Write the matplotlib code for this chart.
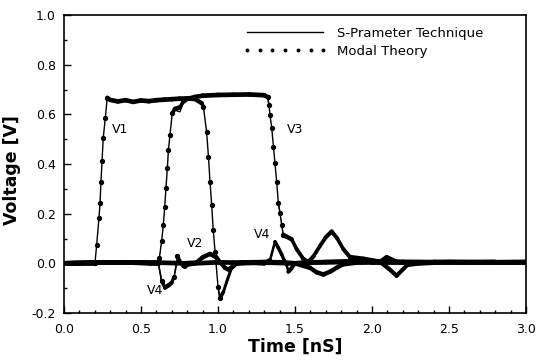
import numpy as np
import matplotlib
matplotlib.use("Agg")
import matplotlib.pyplot as plt
from matplotlib.collections import LineCollection
from matplotlib.lines import Line2D


# Values (time in ns, voltage in V)
t1 = [0.0, 0.1, 0.201, 0.212, 0.227, 0.234, 0.240, 0.247, 0.255, 0.268, 0.281,
      0.30, 0.35, 0.40, 0.45, 0.50, 0.55, 0.60, 0.65, 0.70, 0.75, 0.80, 0.85,
      0.894, 0.905, 0.926, 0.938, 0.948, 0.959, 0.969, 0.981, 1.0, 1.013,
      1.035, 1.056, 1.088, 1.12, 1.2, 1.3, 1.4, 1.5, 1.597, 1.64, 1.684,
      1.73, 1.77, 1.81, 1.9, 2.0, 2.2, 2.4, 2.6, 2.8, 3.0]
v1_sp = [0.0, 0.0, 0.0, 0.074, 0.181, 0.242, 0.329, 0.412, 0.506, 0.584, 0.667,
         0.655, 0.650, 0.655, 0.648, 0.655, 0.652, 0.656, 0.658, 0.660, 0.662, 0.665, 0.662,
         0.645, 0.631, 0.530, 0.429, 0.329, 0.235, 0.134, 0.047, -0.094, -0.148,
         -0.120, -0.080, -0.020, 0.0, 0.005, 0.005, 0.003, 0.0, -0.020, -0.038, -0.047,
         -0.035, -0.020, -0.005, 0.003, 0.005, 0.005, 0.006, 0.004, 0.005, 0.005]
v1_mt = [0.0, 0.0, 0.0, 0.074, 0.181, 0.242, 0.329, 0.412, 0.506, 0.584, 0.667,
         0.658, 0.652, 0.657, 0.650, 0.656, 0.653, 0.657, 0.659, 0.661, 0.663, 0.664, 0.662,
         0.645, 0.631, 0.530, 0.429, 0.329, 0.235, 0.134, 0.047, -0.094, -0.140,
         -0.115, -0.075, -0.018, 0.0, 0.004, 0.005, 0.004, 0.0, -0.018, -0.036, -0.045,
         -0.033, -0.018, -0.004, 0.003, 0.005, 0.005, 0.005, 0.004, 0.005, 0.005]

t2 = [0.0, 0.2, 0.4, 0.6, 0.78, 0.86, 0.90, 0.948, 0.99, 1.02, 1.045, 1.067,
      1.09, 1.12, 1.3, 1.5, 1.7, 1.9, 2.052, 2.095, 2.16, 2.25, 2.4, 2.6, 2.8, 3.0]
v2_sp = [0.0, 0.003, 0.005, 0.003, 0.0, 0.003, 0.025, 0.040, 0.025, 0.0, -0.020, -0.027,
         -0.018, 0.0, 0.003, 0.0, 0.006, 0.010, 0.006, 0.027, 0.006, 0.0, 0.004, 0.006, 0.004, 0.005]
v2_mt = [0.0, 0.003, 0.004, 0.003, 0.0, 0.003, 0.024, 0.038, 0.024, 0.0, -0.018, -0.025,
         -0.016, 0.0, 0.003, 0.0, 0.005, 0.009, 0.006, 0.025, 0.006, 0.0, 0.004, 0.005, 0.004, 0.005]

t3 = [0.0, 0.2, 0.4, 0.55, 0.605, 0.619, 0.634, 0.645, 0.654, 0.662, 0.671, 0.678,
      0.688, 0.703, 0.72, 0.753, 0.773, 0.80, 0.85, 0.90, 1.0, 1.1, 1.2, 1.3, 1.322,
      1.331, 1.338, 1.349, 1.36, 1.37, 1.381, 1.392, 1.403, 1.414, 1.424, 1.446,
      1.478, 1.51, 1.554, 1.586, 1.62, 1.662, 1.70, 1.738, 1.775, 1.814, 1.857,
      1.944, 2.0, 2.052, 2.11, 2.16, 2.23, 2.3, 2.5, 2.7, 3.0]
v3_sp = [0.0, 0.003, 0.004, 0.0, 0.0, 0.020, 0.090, 0.154, 0.228, 0.302, 0.383, 0.456,
         0.517, 0.604, 0.617, 0.610, 0.646, 0.660, 0.668, 0.674, 0.678, 0.680, 0.680, 0.678, 0.672,
         0.637, 0.597, 0.544, 0.470, 0.403, 0.329, 0.242, 0.201, 0.154, 0.114, 0.107,
         0.100, 0.060, 0.020, 0.006, 0.030, 0.074, 0.110, 0.134, 0.105, 0.060, 0.027,
         0.020, 0.013, 0.006, -0.025, -0.054, -0.007, 0.0, 0.006, 0.004, 0.005]
v3_mt = [0.0, 0.003, 0.004, 0.0, 0.0, 0.020, 0.090, 0.154, 0.228, 0.302, 0.383, 0.456,
         0.517, 0.604, 0.622, 0.628, 0.650, 0.662, 0.670, 0.675, 0.678, 0.679, 0.680, 0.677, 0.670,
         0.637, 0.597, 0.544, 0.470, 0.403, 0.329, 0.242, 0.201, 0.154, 0.114, 0.107,
         0.097, 0.058, 0.018, 0.005, 0.028, 0.070, 0.105, 0.128, 0.100, 0.057, 0.025,
         0.018, 0.012, 0.006, -0.022, -0.050, -0.006, 0.0, 0.005, 0.004, 0.005]

t4 = [0.0, 0.2, 0.4, 0.6, 0.613, 0.634, 0.656, 0.68, 0.699, 0.714, 0.736, 0.76,
      0.775, 0.786, 0.80, 0.85, 1.0, 1.1, 1.2, 1.3, 1.338, 1.37, 1.392, 1.414,
      1.43, 1.446, 1.457, 1.475, 1.50, 1.6, 1.8, 2.0, 2.2, 2.4, 2.6, 2.8, 3.0]
v4_sp = [0.0, 0.003, 0.004, 0.002, 0.0, -0.074, -0.100, -0.090, -0.080, -0.060, 0.010, 0.0,
         -0.010, -0.014, -0.005, 0.0, 0.004, 0.003, 0.004, 0.0, 0.013, 0.083, 0.060, 0.033,
         0.010, -0.007, -0.030, -0.020, 0.0, 0.004, 0.005, 0.004, 0.006, 0.005, 0.004, 0.005, 0.005]
v4_mt = [0.0, 0.003, 0.004, 0.002, 0.0, -0.070, -0.098, -0.088, -0.078, -0.055, 0.029, 0.0,
         -0.010, -0.014, -0.005, 0.0, 0.004, 0.003, 0.004, 0.0, 0.013, 0.087, 0.062, 0.035,
         0.012, -0.007, -0.034, -0.022, 0.0, 0.004, 0.005, 0.004, 0.006, 0.005, 0.004, 0.005, 0.005]

curves = [(t1, v1_sp, v1_mt), (t2, v2_sp, v2_mt), (t3, v3_sp, v3_mt), (t4, v4_sp, v4_mt)]

# curve names and where they sit on the chart
names = ["V1", "V2", "V3", "V4", "V4"]
name_t = [0.364, 0.85, 1.50, 1.284, 0.59]
name_v = [0.537, 0.078, 0.537, 0.118, -0.108]

fig = plt.figure(figsize=(5.37, 3.6), dpi=100)
ax = fig.add_axes([64 / 537, 1 - 313 / 360, 462 / 537, 298 / 360])

for t, vs, vm in curves:
    t = np.asarray(t)
    vs = np.asarray(vs)
    vm = np.asarray(vm)
    # S-parameter result: thin solid pen line
    ax.plot(t, vs, color="k", lw=1.0, zorder=3)
    # modal theory: dense dots, they merge into a thick trace where the curve is flat
    pts = np.column_stack([t, vm]).reshape(-1, 1, 2)
    segs = np.concatenate([pts[:-1], pts[1:]], axis=1)
    slope = np.abs(np.diff(vm) / np.diff(t))
    widths = 3.4 * np.clip(1 - slope / 5.0, 0, 1)
    lc = LineCollection(segs, colors="k", linewidths=widths, capstyle="round", zorder=2)
    ax.add_collection(lc)
    # single dots only stand out on the steep parts
    steep = np.zeros(len(t), dtype=bool)
    steep[:-1] |= slope > 3.0
    steep[1:] |= slope > 3.0
    ax.plot(t[steep], vm[steep], ls="none", marker="o", ms=2.8, color="k", zorder=4)

for n, x, y in zip(names, name_t, name_v):
    ax.text(x, y, n, fontsize=9, ha="center", va="center")

ax.set_xlim(0, 3.0)
ax.set_ylim(-0.2, 1.0)
ax.set_xticks(np.arange(0, 3.01, 0.5))
ax.set_xticks(np.arange(0, 3.01, 0.1), minor=True)
ax.set_yticks(np.arange(-0.2, 1.01, 0.2))
ax.set_yticks(np.arange(-0.2, 1.01, 0.1), minor=True)
ax.set_xticklabels(["%.1f" % x for x in np.arange(0, 3.01, 0.5)])
ax.set_yticklabels(["%.1f" % y if abs(y) > 1e-9 else "0.0" for y in np.arange(-0.2, 1.01, 0.2)])
ax.tick_params(which="both", direction="in", top=False, right=False, labelsize=9, width=1)
ax.tick_params(which="major", length=5)
ax.tick_params(which="minor", length=2.5)
ax.tick_params(axis="x", pad=7)
ax.tick_params(axis="y", pad=6)
for s in ax.spines.values():
    s.set_linewidth(1.2)

fig.text(12.5 / 537, 1 - 170 / 360, "Voltage [V]", rotation=90, fontsize=12.5,
         fontweight="bold", ha="center", va="center")
fig.text(295 / 537, 1 - 347 / 360, "Time [nS]", fontsize=12.5,
         fontweight="bold", ha="center", va="center")

handles = [Line2D([], [], color="k", lw=1.0),
           Line2D([], [], ls="none", marker="o", ms=1.8, color="k")]
ax.legend(handles, ["S-Prameter Technique", "Modal Theory"], loc="upper left",
          bbox_to_anchor=(243 / 537, 1 - 27 / 360), bbox_transform=fig.transFigure,
          frameon=False, fontsize=9.5, numpoints=7, handlelength=6.4,
          handletextpad=0.75, labelspacing=0.35, borderpad=0, borderaxespad=0)

fig.savefig("out.png", dpi=100)
